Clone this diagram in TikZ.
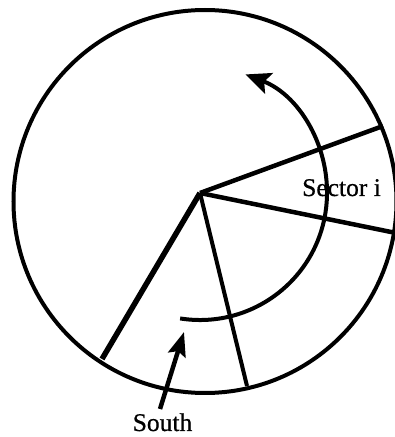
\documentclass[tikz,border=0pt]{standalone}
\usepackage{fontspec}
\setmainfont{Liberation Serif}
\usetikzlibrary{arrows.meta,calc}
\begin{document}
\begin{tikzpicture}[x=1pt,y=1pt,
  rim/.style={line width=4pt},
  spoke/.style={line width=4.5pt},
  lbl/.style={font=\fontsize{25.5}{30}\selectfont\addfontfeatures{FakeBold=0.6}, inner sep=0pt, anchor=base},
  bigtip/.style={-{Stealth[length=25pt,width=22pt,inset=5pt]}}]
\useasboundingbox (0,0) rectangle (395,437);
\coordinate (ctr) at (205,235.5);
\coordinate (hub) at (200,244);
\coordinate (a) at (383,311);
\coordinate (b) at (396,204);
\coordinate (c) at (102,78);
\coordinate (d) at (247,51);
\begin{scope}
\clip (0,0) rectangle (395,437);
\draw[rim] (ctr) circle[radius=191.5];
\draw[spoke] (hub) -- (a);
\draw[spoke] (hub) -- (b);
\end{scope}
\draw[spoke, line width=5.5pt] (hub) -- (c);
\draw[spoke, line width=4pt] (hub) -- (d);
\coordinate (arcstart) at ($(hub)+(-99:127)$);
\draw[line width=4pt, bigtip] (arcstart) arc[start angle=-99, end angle=69, radius=127];
\node[lbl] (sector) at (341.5,241) {Sector i};
\node[lbl] (south) at (162.5,6) {South};
\coordinate (stail) at (160,28);
\coordinate (stip) at (184,105);
\draw[line width=4.5pt, -{Stealth[length=24pt,width=18pt,inset=4pt]}] (stail) -- (stip);
\end{tikzpicture}
\end{document}
